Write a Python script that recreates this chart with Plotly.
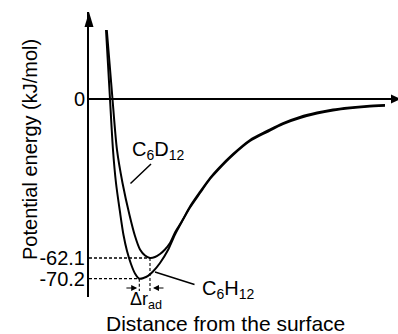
import numpy as np
import plotly.graph_objects as go

# ---------------- data ----------------
# distance (arbitrary units) and potential energy (kJ/mol)
h_x = [0.567, 0.633, 0.70, 0.80, 0.90, 1.033, 1.15, 1.267, 1.40, 1.533, 1.677,
       1.833, 1.967, 2.133, 2.367, 2.633, 2.867, 3.10,
       3.367, 3.70, 4.033, 4.30, 4.80, 5.367, 5.933, 6.467, 7.033, 7.60,
       8.133, 8.70, 9.267, 9.867]
h_y = [26.95, 13.67, 0.0, -19.92, -32.81, -44.14, -53.13, -59.38, -64.45, -68.16, -70.2,
       -69.84, -69.06, -67.38, -64.06, -58.98, -52.93, -47.85,
       -42.38, -36.72, -31.25, -27.73, -21.88, -16.41, -12.89, -9.77, -7.42, -5.66,
       -4.49, -3.63, -3.05, -2.66]

d_x = [0.593, 0.687, 0.783, 0.933, 1.117, 1.35, 1.533, 1.70, 1.867, 2.033,
       2.20, 2.367, 2.533, 2.70, 2.867, 3.10,
       3.367, 3.70, 4.033, 4.30, 4.80, 5.367, 5.933, 6.467, 7.033, 7.60,
       8.133, 8.70, 9.267, 9.867]
d_y = [26.95, 13.67, 0.0, -19.92, -32.81, -45.31, -53.52, -58.79, -61.13, -62.1,
       -61.72, -60.55, -58.79, -56.25, -52.15, -47.66,
       -42.0, -36.3, -30.9, -27.3, -21.5, -16.0, -12.5, -9.4, -7.0, -5.3,
       -4.1, -3.3, -2.7, -2.3]

tick_vals = [0, -62.1, -70.2]
tick_text = ["0", "-62.1", "-70.2"]

# ---------------- layout constants ----------------
W, H = 398, 334
ML, MR, MT, MB = 89, 0, 12, 37
X_RANGE = [0, 10.3]
Y_RANGE = [-77.34, 33.98]
FONT = "Liberation Sans, Arial, sans-serif"
BLACK = "#000000"
PW, PH = W - ML - MR, H - MT - MB

def paper_y(v):
    return (v - Y_RANGE[0]) / (Y_RANGE[1] - Y_RANGE[0])

def px_to_paper(px, py):
    return (px - ML) / PW, ((H - MB) - py) / PH

fig = go.Figure()

# minima derived from the curves
ih = int(np.argmin(h_y)); xh, yh = h_x[ih], h_y[ih]
idd = int(np.argmin(d_y)); xd, yd = d_x[idd], d_y[idd]
y_drop = -75.0

# dashed guide lines
for xm, ym in [(xd, yd), (xh, yh)]:
    fig.add_trace(go.Scatter(x=[0, xm], y=[ym, ym], mode="lines",
                             line=dict(color=BLACK, width=1.3, dash="3px,2px"),
                             hoverinfo="skip", showlegend=False))
    fig.add_trace(go.Scatter(x=[xm, xm], y=[ym, y_drop], mode="lines",
                             line=dict(color=BLACK, width=1.1, dash="3px,2px"),
                             hoverinfo="skip", showlegend=False))

# curves
fig.add_trace(go.Scatter(x=h_x, y=h_y, mode="lines", name="C6H12",
                         line=dict(color=BLACK, width=2, shape="spline", smoothing=0.8),
                         showlegend=False))
fig.add_trace(go.Scatter(x=d_x, y=d_y, mode="lines", name="C6D12",
                         line=dict(color=BLACK, width=2, shape="spline", smoothing=0.8),
                         showlegend=False))

fig.update_xaxes(range=X_RANGE, visible=False, fixedrange=True)
fig.update_yaxes(range=Y_RANGE, showgrid=False, zeroline=True, zerolinecolor=BLACK,
                 zerolinewidth=2, showline=True, linecolor=BLACK, linewidth=2,
                 tickvals=tick_vals, ticktext=tick_text, ticks="", ticklabelstandoff=-2,
                 tickfont=dict(family=FONT, size=20, color=BLACK), fixedrange=True)

y0p = paper_y(0)
shapes = [
    # y-axis arrow head
    dict(type="path", xref="paper", yref="paper", xsizemode="pixel", ysizemode="pixel",
         xanchor=0, yanchor=1, path="M-4.5,-15 L4.5,-15 L0,0 Z",
         fillcolor=BLACK, line=dict(color=BLACK, width=0)),
    # x-axis arrow head
    dict(type="path", xref="paper", yref="paper", xsizemode="pixel", ysizemode="pixel",
         xanchor=1, yanchor=y0p, path="M-7,4.5 L-7,-4.5 L3,0 Z",
         fillcolor=BLACK, line=dict(color=BLACK, width=0)),
]

ann = []
# labels with leader lines
ann.append(dict(x=2.067, y=-25.39, ax=1.333, ay=-33.59, axref="x", ayref="y",
                text="", showarrow=True, arrowhead=0, arrowwidth=1.5, arrowcolor=BLACK))
ann.append(dict(x=2.30, y=-20.0, text="C<sub>6</sub>D<sub>12</sub>", showarrow=False,
                xanchor="center", yanchor="middle",
                font=dict(family=FONT, size=20, color=BLACK)))
ann.append(dict(x=2.20, y=-67.6, ax=3.567, ay=-72.66, axref="x", ayref="y",
                text="", showarrow=True, arrowhead=0, arrowwidth=1.5, arrowcolor=BLACK))
ann.append(dict(x=4.633, y=-74.4, text="C<sub>6</sub>H<sub>12</sub>", showarrow=False,
                xanchor="center", yanchor="middle",
                font=dict(family=FONT, size=20, color=BLACK)))
# Δr_ad arrows
ya = -73.83
ann.append(dict(x=xh - 0.07, y=ya, ax=xh - 0.48, ay=ya, axref="x", ayref="y",
                text="", showarrow=True, arrowhead=2, arrowsize=1, arrowwidth=1.2,
                arrowcolor=BLACK))
ann.append(dict(x=xd + 0.10, y=ya, ax=xd + 0.50, ay=ya, axref="x", ayref="y",
                text="", showarrow=True, arrowhead=2, arrowsize=1, arrowwidth=1.2,
                arrowcolor=BLACK))
dx, dy = px_to_paper(146, 300)
ann.append(dict(xref="paper", yref="paper", x=dx, y=dy, text="Δr<sub>ad</sub>",
                xanchor="center", yanchor="middle", showarrow=False,
                font=dict(family=FONT, size=18, color=BLACK)))
# axis titles
tx, ty = px_to_paper(225, 323)
ann.append(dict(xref="paper", yref="paper", x=tx, y=ty, text="Distance from the surface",
                xanchor="center", yanchor="middle",
                showarrow=False, font=dict(family=FONT, size=21, color=BLACK)))
vx, vy = px_to_paper(30, 150)
ann.append(dict(xref="paper", yref="paper", x=vx, y=vy, text="Potential energy (kJ/mol)",
                xanchor="center", yanchor="middle",
                textangle=-90, showarrow=False, font=dict(family=FONT, size=20, color=BLACK)))

fig.update_layout(width=W, height=H, margin=dict(l=ML, r=MR, t=MT, b=MB),
                  plot_bgcolor="white", paper_bgcolor="white",
                  shapes=shapes, annotations=ann, showlegend=False)

fig.write_html("out.html", config={"displayModeBar": False})
